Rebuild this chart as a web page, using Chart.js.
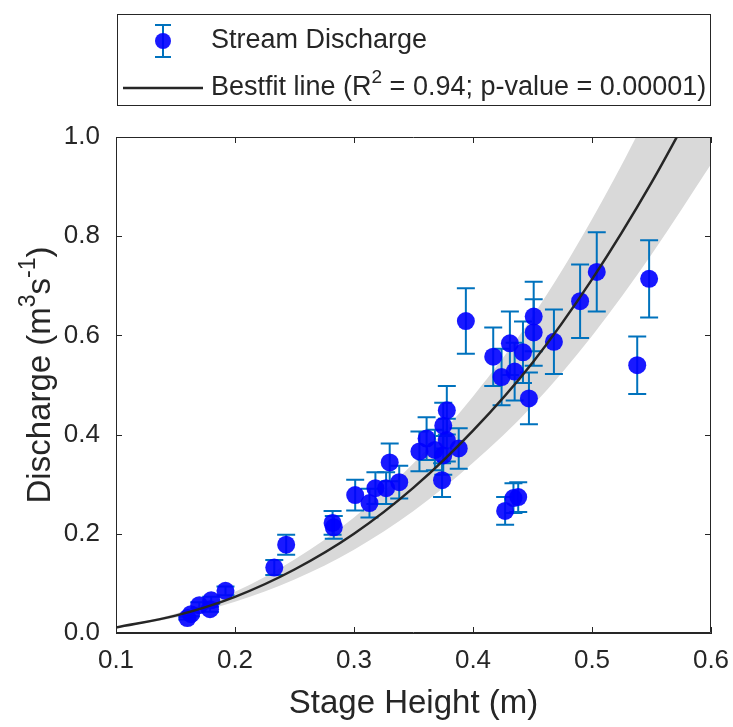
<!DOCTYPE html>
<html>
<head>
<meta charset="utf-8">
<script src="https://cdn.jsdelivr.net/npm/chart.js@4.4.1/dist/chart.umd.min.js"></script>
<style>
html,body{margin:0;padding:0;background:#ffffff;}
#wrap{width:733px;height:727px;position:relative;}
canvas{display:block;}
</style>
</head>
<body>
<div id="wrap"><canvas id="c" width="733" height="727"></canvas></div>
<script>
// ---- data ----
const stageHeight = [0.160, 0.163, 0.170, 0.179, 0.180, 0.192, 0.233, 0.243, 0.282, 0.283,
  0.301, 0.313, 0.318, 0.327, 0.330, 0.338, 0.355, 0.361, 0.368, 0.375,
  0.378, 0.375, 0.378, 0.388, 0.374, 0.394, 0.417, 0.424, 0.431, 0.435,
  0.442, 0.451, 0.451, 0.468, 0.447, 0.490, 0.504, 0.548, 0.538, 0.427,
  0.434, 0.438];
const discharge = [0.030, 0.038, 0.056, 0.048, 0.066, 0.085, 0.132, 0.178, 0.222, 0.213,
  0.278, 0.262, 0.292, 0.292, 0.344, 0.304, 0.366, 0.392, 0.369, 0.358,
  0.389, 0.418, 0.449, 0.372, 0.308, 0.629, 0.557, 0.516, 0.584, 0.527,
  0.566, 0.638, 0.606, 0.587, 0.473, 0.669, 0.728, 0.714, 0.540, 0.246,
  0.272, 0.274];
const dischargeErr = [0.003, 0.004, 0.006, 0.005, 0.007, 0.009, 0.015, 0.020, 0.024, 0.023,
  0.031, 0.029, 0.032, 0.032, 0.038, 0.033, 0.040, 0.043, 0.041, 0.039,
  0.043, 0.046, 0.049, 0.041, 0.034, 0.066, 0.059, 0.057, 0.064, 0.058,
  0.062, 0.070, 0.067, 0.065, 0.052, 0.074, 0.080, 0.078, 0.058, 0.028,
  0.030, 0.030];

const fitStage     = [0.10, 0.15, 0.20, 0.25, 0.30, 0.35, 0.40, 0.45, 0.50, 0.55, 0.60];
const fitDischarge = [0.011, 0.035, 0.073, 0.128, 0.200, 0.293, 0.408, 0.545, 0.713, 0.908, 1.128];
const bandUpper    = [0.012, 0.039, 0.083, 0.148, 0.233, 0.342, 0.477, 0.638, 0.834, 1.062, 1.320];
const bandLower    = [0.010, 0.031, 0.063, 0.108, 0.168, 0.246, 0.343, 0.458, 0.599, 0.763, 0.945];

const xTicks = [0.1, 0.2, 0.3, 0.4, 0.5, 0.6];
const yTicks = [0.0, 0.2, 0.4, 0.6, 0.8, 1.0];

const seriesName = 'Stream Discharge';
const fitName = 'Bestfit line';
const fitStats = { r2: '0.94', p: '0.00001' };
const xTitle = 'Stage Height (m)';

// ---- styling ----
const FONT = '"Liberation Sans", Arial, Helvetica, sans-serif';
const TEXT = '#262626';
const MARKER = 'rgba(0,0,255,0.9)';
const ERRCOL = '#0072BD';
const BAND = '#d9d9d9';
const TITLE_SIZE = 33;

const pts = (xs, ys) => xs.map((x, i) => ({ x: x, y: ys[i] }));

// error bars, drawn underneath the markers
const errorBars = {
  id: 'errorBars',
  beforeDatasetDraw(chart, args) {
    if (args.index !== 2) return;
    const xs = chart.scales.x, ys = chart.scales.y, ctx = chart.ctx;
    ctx.save();
    ctx.strokeStyle = ERRCOL;
    ctx.lineWidth = 2;
    stageHeight.forEach((h, i) => {
      const px = xs.getPixelForValue(h);
      const t = ys.getPixelForValue(discharge[i] + dischargeErr[i]);
      const b = ys.getPixelForValue(discharge[i] - dischargeErr[i]);
      ctx.beginPath();
      ctx.moveTo(px, t); ctx.lineTo(px, b);
      ctx.moveTo(px - 9, t); ctx.lineTo(px + 9, t);
      ctx.moveTo(px - 9, b); ctx.lineTo(px + 9, b);
      ctx.stroke();
    });
    ctx.restore();
  }
};

// box + inward tick marks on all four sides
const axesBox = {
  id: 'axesBox',
  afterDatasetsDraw(chart) {
    const { ctx, chartArea: a } = chart;
    const xs = chart.scales.x, ys = chart.scales.y;
    ctx.save();
    ctx.strokeStyle = TEXT;
    ctx.lineWidth = 1;
    ctx.beginPath();
    ctx.rect(Math.round(a.left) + 0.5, Math.round(a.top) + 0.5,
             Math.round(a.right - a.left) - 1, Math.round(a.bottom - a.top) - 1);
    ctx.stroke();
    const L = 6;
    ctx.beginPath();
    xTicks.forEach(v => {
      const p = Math.round(xs.getPixelForValue(v)) + 0.5;
      ctx.moveTo(p, a.bottom); ctx.lineTo(p, a.bottom - L);
      ctx.moveTo(p, a.top); ctx.lineTo(p, a.top + L);
    });
    yTicks.forEach(v => {
      const p = Math.round(ys.getPixelForValue(v)) + 0.5;
      ctx.moveTo(a.left, p); ctx.lineTo(a.left + L, p);
      ctx.moveTo(a.right, p); ctx.lineTo(a.right - L, p);
    });
    ctx.stroke();
    ctx.restore();
  }
};

// draw a run of text pieces with superscripts
function runWidth(ctx, parts, size) {
  let w = 0;
  parts.forEach(p => {
    ctx.font = (p.sup ? Math.round(size * 0.7) : size) + 'px ' + FONT;
    w += ctx.measureText(p.t).width;
  });
  return w;
}
function drawRun(ctx, parts, x, y, size) {
  let cx = x;
  parts.forEach(p => {
    const s = p.sup ? Math.round(size * 0.7) : size;
    ctx.font = s + 'px ' + FONT;
    ctx.fillText(p.t, cx, p.sup ? y - size * 0.38 : y);
    cx += ctx.measureText(p.t).width;
  });
}

// y axis title with superscripts
const yTitle = {
  id: 'yTitle',
  afterDraw(chart) {
    const { ctx, chartArea: a } = chart;
    const size = TITLE_SIZE;
    const parts = [{ t: 'Discharge (m' }, { t: '3', sup: true }, { t: 's' }, { t: '-1', sup: true }, { t: ')' }];
    ctx.save();
    ctx.fillStyle = TEXT;
    ctx.textBaseline = 'middle';
    ctx.textAlign = 'left';
    const w = runWidth(ctx, parts, size);
    ctx.translate(41, (a.top + a.bottom) / 2 - 10);
    ctx.rotate(-Math.PI / 2);
    drawRun(ctx, parts, -w / 2, 0, size);
    ctx.restore();
  }
};

// legend box
const legendBox = {
  id: 'legendBox',
  afterDraw(chart) {
    const ctx = chart.ctx;
    const size = 27;
    ctx.save();
    ctx.fillStyle = '#ffffff';
    ctx.fillRect(117, 14, 593, 92);
    ctx.strokeStyle = TEXT;
    ctx.lineWidth = 1;
    ctx.strokeRect(117.5, 14.5, 593, 91);
    // row 1: marker with error bar
    const r1 = 41, ix = 163;
    ctx.strokeStyle = ERRCOL; ctx.lineWidth = 2;
    ctx.beginPath();
    ctx.moveTo(ix, r1 - 16); ctx.lineTo(ix, r1 + 16);
    ctx.moveTo(ix - 8, r1 - 16); ctx.lineTo(ix + 8, r1 - 16);
    ctx.moveTo(ix - 8, r1 + 16); ctx.lineTo(ix + 8, r1 + 16);
    ctx.stroke();
    ctx.fillStyle = MARKER;
    ctx.beginPath(); ctx.arc(ix, r1, 8, 0, Math.PI * 2); ctx.fill();
    ctx.fillStyle = TEXT;
    ctx.textBaseline = 'middle'; ctx.textAlign = 'left';
    ctx.font = size + 'px ' + FONT;
    ctx.fillText(seriesName, 211, r1);
    // row 2: line
    const r2 = 88;
    ctx.strokeStyle = TEXT; ctx.lineWidth = 2.5;
    ctx.beginPath(); ctx.moveTo(123, r2); ctx.lineTo(203, r2); ctx.stroke();
    drawRun(ctx, [{ t: fitName + ' (R' }, { t: '2', sup: true },
      { t: ' = ' + fitStats.r2 + '; p-value = ' + fitStats.p + ')' }], 211, r2, size);
    ctx.restore();
  }
};

new Chart(document.getElementById('c'), {
  type: 'scatter',
  data: {
    datasets: [
      { type: 'line', label: 'band lower', data: pts(fitStage, bandLower),
        borderWidth: 0, pointRadius: 0, fill: false, cubicInterpolationMode: 'monotone',
        borderColor: 'rgba(0,0,0,0)', order: 4, clip: 0 },
      { type: 'line', label: 'band upper', data: pts(fitStage, bandUpper),
        borderWidth: 0, pointRadius: 0, fill: '-1', backgroundColor: BAND,
        borderColor: 'rgba(0,0,0,0)', cubicInterpolationMode: 'monotone', order: 3, clip: 0 },
      { type: 'scatter', label: seriesName, data: pts(stageHeight, discharge),
        backgroundColor: MARKER, borderWidth: 0, pointRadius: 9, pointHoverRadius: 9, order: 2 },
      { type: 'line', label: fitName, data: pts(fitStage, fitDischarge),
        borderColor: TEXT, borderWidth: 2.5, pointRadius: 0, fill: false,
        cubicInterpolationMode: 'monotone', order: 1, clip: 0 }
    ]
  },
  options: {
    responsive: false,
    animation: false,
    devicePixelRatio: 1,
    layout: { padding: { top: 137, right: 22, left: 0, bottom: 0 } },
    plugins: { legend: { display: false }, tooltip: { enabled: false } },
    scales: {
      x: {
        type: 'linear', min: 0.1, max: 0.6,
        afterBuildTicks: s => { s.ticks = xTicks.map(v => ({ value: v })); },
        afterFit: s => { s.height = 94; s.paddingLeft = 0; s.paddingRight = 0; },
        grid: { display: false, drawTicks: false },
        border: { display: true, color: TEXT, width: 1 },
        ticks: { callback: v => Number(v).toFixed(1), color: TEXT, padding: 12,
                 font: { family: FONT, size: 26 }, maxRotation: 0, autoSkip: false },
        title: { display: true, text: xTitle, color: TEXT, padding: { top: 4, bottom: 3 },
                 font: { family: FONT, size: TITLE_SIZE } }
      },
      y: {
        type: 'linear', min: 0, max: 1,
        afterBuildTicks: s => { s.ticks = yTicks.map(v => ({ value: v })); },
        afterFit: s => { s.width = 116; s.paddingTop = 0; s.paddingBottom = 0; },
        grid: { display: false, drawTicks: false },
        border: { display: true, color: TEXT, width: 1 },
        ticks: { callback: v => Number(v).toFixed(1), color: TEXT, padding: 16,
                 font: { family: FONT, size: 26 }, autoSkip: false },
        title: { display: false }
      }
    }
  },
  plugins: [errorBars, axesBox, yTitle, legendBox]
});
</script>
</body>
</html>
